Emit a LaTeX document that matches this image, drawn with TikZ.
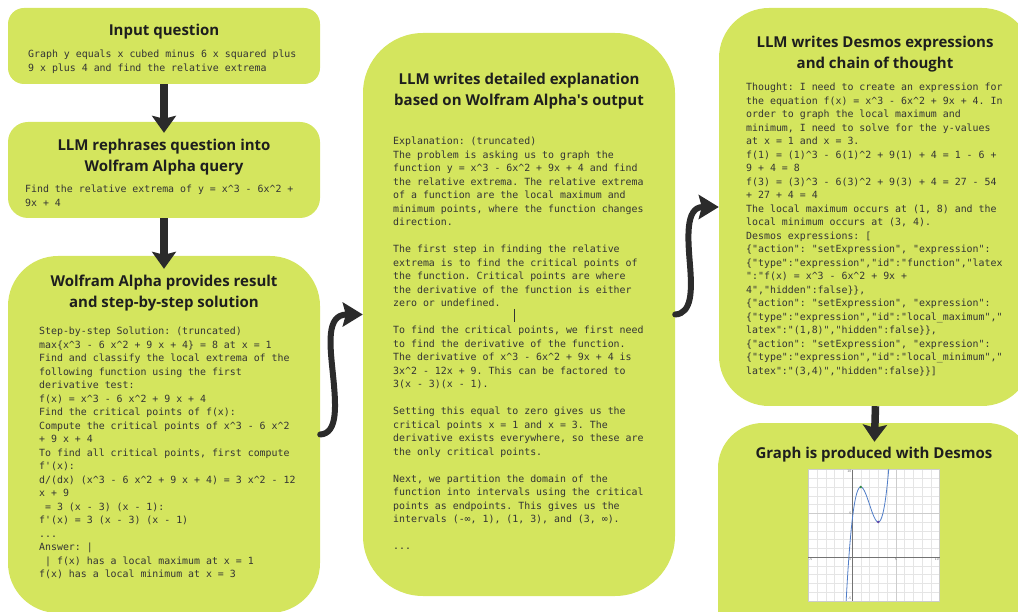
\documentclass[tikz,border=0pt]{standalone}
\usepackage{fontspec}
\setmonofont{DejaVu Sans Mono}
\newfontfamily\titlefont{Open Sans}
\usetikzlibrary{arrows.meta}
\definecolor{boxgreen}{RGB}{212,229,94}
\definecolor{ink}{RGB}{30,30,30}
\definecolor{bodyink}{RGB}{52,52,52}
\definecolor{arrowc}{RGB}{43,43,43}
\definecolor{curveblue}{RGB}{80,125,200}
\definecolor{maxgreen}{RGB}{56,140,70}
\definecolor{minpurple}{RGB}{96,66,166}
\newcommand\ca{\textasciicircum}
\frenchspacing
\begin{document}
\begin{tikzpicture}[x=1pt,y=-1pt,
  box/.style={fill=boxgreen, draw=none, inner sep=0pt},
  ttl/.style={font=\titlefont\bfseries\fontsize{15}{21}\selectfont, text=ink, align=center, anchor=north, inner sep=0pt},
  body/.style={font=\ttfamily\fontsize{9.9}{13.5}\selectfont\frenchspacing, text=bodyink, align=left, anchor=north west, inner sep=0pt},
  flow/.style={draw=arrowc, line width=7.5pt, -{Stealth[length=17pt,width=24pt,inset=3pt]}},
  swirl/.style={draw=arrowc, line width=6pt, line cap=round, -{Stealth[length=20pt,width=24pt,inset=3pt]}},
  gridminor/.style={draw=black!10, line width=0.3pt},
  gridmajor/.style={draw=black!20, line width=0.4pt},
  tick/.style={font=\sffamily\fontsize{3.5}{4}\selectfont, text=black!60, inner sep=0.6pt}]
\useasboundingbox (0,0) rectangle (1018,612);
\clip (0,0) rectangle (1018,612);

% boxes
\node[box, rounded corners=16pt, minimum width=312pt, minimum height=76pt] (q) at (164,46) {};
\node[box, rounded corners=20pt, minimum width=312pt, minimum height=96pt] (r) at (164,170) {};
\node[box, rounded corners=50pt, minimum width=312pt, minimum height=357pt] (w) at (164,434.5) {};
\node[box, rounded corners=60pt, minimum width=312pt, minimum height=563pt] (m) at (519,314.5) {};
\node[box, rounded corners=50pt, minimum width=313pt, minimum height=398pt] (d) at (875.5,207) {};
\node[box, rounded corners=45pt, minimum width=314pt, minimum height=237pt] (g) at (875,541.5) {};

% titles
\node[ttl] (qt) at (164,24) {Input question};
\node[ttl] (rt) at (164,139) {LLM rephrases question into\\Wolfram Alpha query};
\node[ttl] (wt) at (164,275) {Wolfram Alpha provides result\\and step-by-step solution};
\node[ttl] (mt) at (519,73) {LLM writes detailed explanation\\based on Wolfram Alpha\textquotesingle s output};
\node[ttl] (dt) at (875,36) {LLM writes Desmos expressions\\and chain of thought};
\node[ttl] (gt) at (874,447) {Graph is produced with Desmos};

% body texts
\node[body] (qb) at (28,50) {Graph y equals x cubed minus 6 x squared plus\\9 x plus 4 and find the relative extrema};
\node[body] (rb) at (25,185) {Find the relative extrema of y = x\ca3 - 6x\ca2 +\\9x + 4};
\node[body] (wb) at (39,327) {Step-by-step Solution: (truncated)\\
max\{x\ca3 - 6 x\ca2 + 9 x + 4\} = 8 at x = 1\\
Find and classify the local extrema of the\\
following function using the first\\
derivative test:\\
f(x) = x\ca3 - 6 x\ca2 + 9 x + 4\\
Find the critical points of f(x):\\
Compute the critical points of x\ca3 - 6 x\ca2\\
+ 9 x + 4\\
To find all critical points, first compute\\
f'(x):\\
d/(dx) (x\ca3 - 6 x\ca2 + 9 x + 4) = 3 x\ca2 - 12\\
x + 9\\
\hphantom{x}= 3 (x - 3) (x - 1):\\
f'(x) = 3 (x - 3) (x - 1)\\
...\\
Answer: |\\
\hphantom{x}| f(x) has a local maximum at x = 1\\
f(x) has a local minimum at x = 3};
\node[body] (mb) at (393,137) {Explanation: (truncated)\\
The problem is asking us to graph the\\
function y = x\ca3 - 6x\ca2 + 9x + 4 and find\\
the relative extrema. The relative extrema\\
of a function are the local maximum and\\
minimum points, where the function changes\\
direction.\\[13.5pt]
The first step in finding the relative\\
extrema is to find the critical points of\\
the function. Critical points are where\\
the derivative of the function is either\\
zero or undefined.\\[13.5pt]
To find the critical points, we first need\\
to find the derivative of the function.\\
The derivative of x\ca3 - 6x\ca2 + 9x + 4 is\\
3x\ca2 - 12x + 9. This can be factored to\\
3(x - 3)(x - 1).\\[13.5pt]
Setting this equal to zero gives us the\\
critical points x = 1 and x = 3. The\\
derivative exists everywhere, so these are\\
the only critical points.\\[13.5pt]
Next, we partition the domain of the\\
function into intervals using the critical\\
points as endpoints. This gives us the\\
intervals (-∞, 1), (1, 3), and (3, ∞).\\[13.5pt]
...};
\node[body] (db) at (746,83) {Thought: I need to create an expression for\\
the equation f(x) = x\ca3 - 6x\ca2 + 9x + 4. In\\
order to graph the local maximum and\\
minimum, I need to solve for the y-values\\
at x = 1 and x = 3.\\
f(1) = (1)\ca3 - 6(1)\ca2 + 9(1) + 4 = 1 - 6 +\\
9 + 4 = 8\\
f(3) = (3)\ca3 - 6(3)\ca2 + 9(3) + 4 = 27 - 54\\
+ 27 + 4 = 4\\
The local maximum occurs at (1, 8) and the\\
local minimum occurs at (3, 4).\\
Desmos expressions: [\\
\{"action": "setExpression", "expression":\\
\{"type":"expression","id":"function","latex\\
":"f(x) = x\ca3 - 6x\ca2 + 9x +\\
4","hidden":false\}\},\\
\{"action": "setExpression", "expression":\\
\{"type":"expression","id":"local\_maximum","\\
latex":"(1,8)","hidden":false\}\},\\
\{"action": "setExpression", "expression":\\
\{"type":"expression","id":"local\_minimum","\\
latex":"(3,4)","hidden":false\}\}]};

% text cursor
\draw[bodyink, line width=0.9pt] (514,309) -- (514,322);

% connectors
\draw[flow, shorten >=-11pt] (q.south) -- (r.north);
\draw[flow, shorten >=-13pt] (r.south) -- (w.north);
\draw[flow, shorten >=-19pt] (d.south) -- (g.north);
\draw[swirl] (w.east) .. controls +(18,-1) and +(3,30) .. (333,375) .. controls +(-3,-30) and +(-37,0) .. (m.west);
\draw[swirl] (m.east) .. controls +(17,-1) and +(2,25) .. (690,265) .. controls +(-2,-25) and +(-34,0) .. (d.west);

% Desmos graph
\begin{scope}[shift={(852,557)}, x=8.75pt, y=8.75pt]
  \fill[white] (-5,-5) rectangle (10,10);
  \draw[gridminor, step=1] (-5,-5) grid (10,10);
  \draw[gridmajor, step=5] (-5,-5) grid (10,10);
  \draw[black!55, line width=0.5pt] (-5,0) -- (10,0);
  \draw[black!55, line width=0.5pt] (0,-5) -- (0,10);
  \begin{scope}
    \clip (-5,-5) rectangle (10,10);
    \draw[curveblue, line width=0.8pt] plot[domain=-0.75:4.3, samples=140, smooth] (\x, {\x*\x*\x-6*\x*\x+9*\x+4});
  \end{scope}
  \fill[maxgreen] (1,8) circle (1.4pt);
  \fill[minpurple] (3,4) circle (1.4pt);
  \node[tick, anchor=north east] (t1) at (0,10) {10};
  \node[tick, anchor=east] (t2) at (0,5) {5};
  \node[tick, anchor=south east] (t3) at (0,-5) {-5};
  \node[tick, anchor=north west] (t4) at (-5,0) {-5};
  \node[tick, anchor=north east] (t5) at (0,0) {0};
  \node[tick, anchor=north] (t6) at (5,0) {5};
  \node[tick, anchor=north east] (t7) at (10,0) {10};
\end{scope}
\end{tikzpicture}
\end{document}
